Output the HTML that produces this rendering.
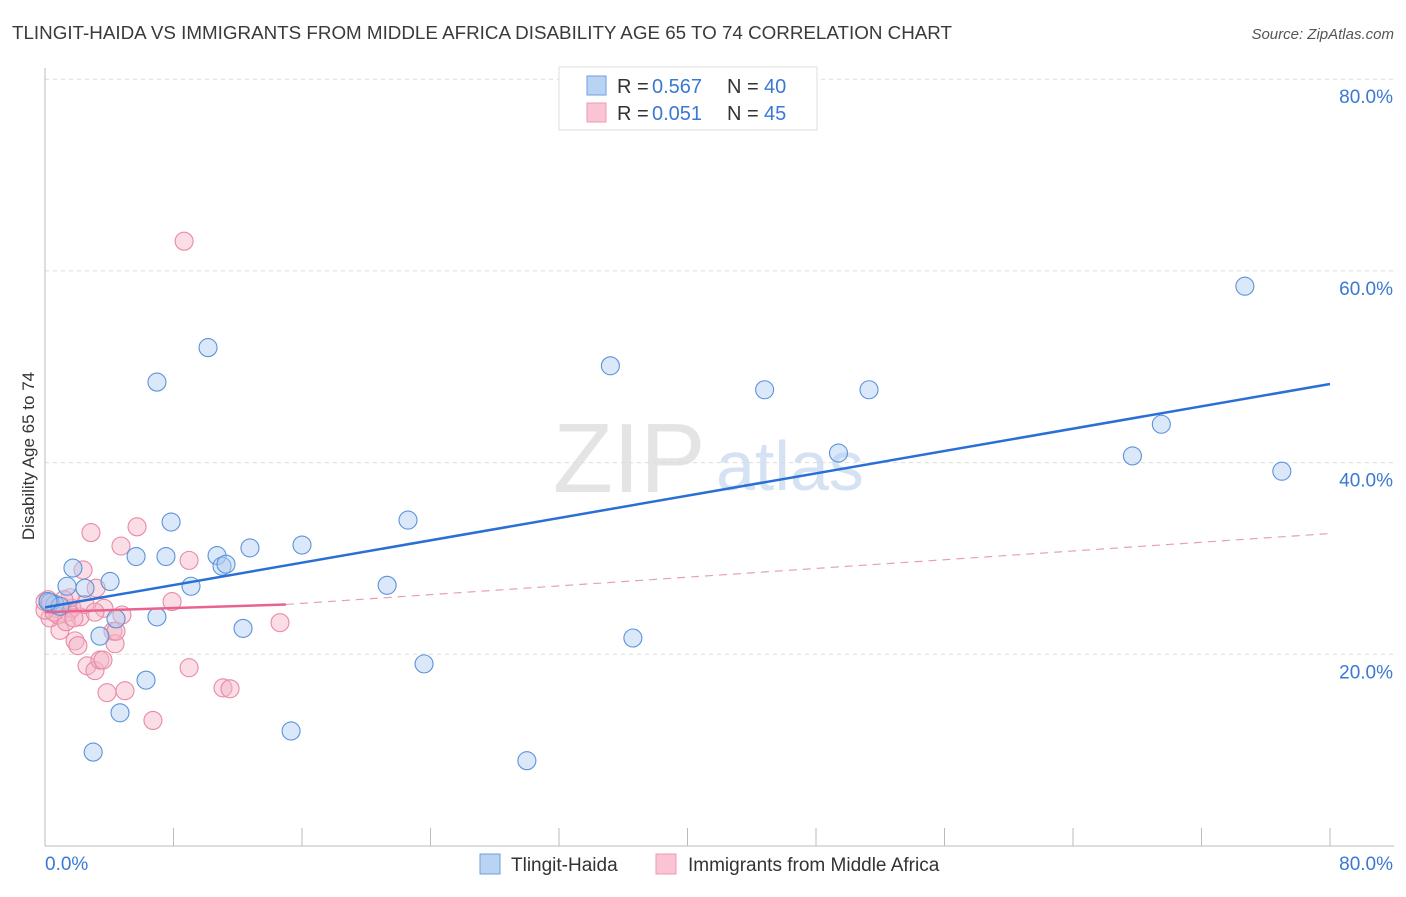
<!DOCTYPE html>
<html><head><meta charset="utf-8"><style>
body{margin:0;background:#fff;font-family:"Liberation Sans",sans-serif;}
svg text{font-family:"Liberation Sans",sans-serif;}
</style></head><body>
<svg id="chart" width="1406" height="892">
<text x="12" y="39" font-size="18" fill="#3a3a3a" textLength="940" lengthAdjust="spacingAndGlyphs">TLINGIT-HAIDA VS IMMIGRANTS FROM MIDDLE AFRICA DISABILITY AGE 65 TO 74 CORRELATION CHART</text>
<text x="1394" y="39" font-size="15" fill="#555" font-style="italic" text-anchor="end">Source: ZipAtlas.com</text>
<text x="0" y="0" transform="translate(34,456) rotate(-90)" font-size="17" fill="#333" text-anchor="middle">Disability Age 65 to 74</text>
<text x="553" y="492" font-size="98" fill="#e4e4e4" font-family="Liberation Serif">ZIP</text>
<text x="716" y="490" font-size="70" fill="#d4e2f4">atlas</text>
<g id="grid"></g><g id="axes"></g><g id="pts"></g><g id="lines"></g>
<g>
<rect x="559" y="67" width="258" height="63" fill="#fff" stroke="#ddd"/>
<rect x="587" y="76" width="19" height="19" fill="#b9d3f3" stroke="#6e9fe0"/>
<rect x="587" y="103" width="19" height="19" fill="#f9c4d3" stroke="#ee9ab3"/>
<text x="617" y="93" font-size="20" fill="#333">R =</text>
<text x="652" y="93" font-size="20" fill="#3a78d4">0.567</text>
<text x="727" y="93" font-size="20" fill="#333">N =</text>
<text x="764" y="93" font-size="20" fill="#3a78d4">40</text>
<text x="617" y="120" font-size="20" fill="#333">R =</text>
<text x="652" y="120" font-size="20" fill="#3a78d4">0.051</text>
<text x="727" y="120" font-size="20" fill="#333">N =</text>
<text x="764" y="120" font-size="20" fill="#3a78d4">45</text>
</g>
<g>
<rect x="480" y="854" width="20" height="20" fill="#b9d3f3" stroke="#6e9fe0"/>
<text x="511" y="871" font-size="19" fill="#333">Tlingit-Haida</text>
<rect x="656" y="854" width="20" height="20" fill="#f9c4d3" stroke="#ee9ab3"/>
<text x="688" y="871" font-size="19" fill="#333">Immigrants from Middle Africa</text>
</g>
</svg>
<script>
const blueX=[3.0,4.67,6.29,6.97,4.42,3.42,1.37,1.74,2.49,4.05,5.67,7.53,7.85,9.09,10.71,11.02,11.27,12.76,12.33,16.0,15.32,6.97,10.15,21.3,22.6,23.6,30.0,35.2,36.6,44.8,49.4,51.3,67.7,69.5,74.7,77.0,0.62,0.31,0.93,0.19];
const blueY=[9.8,13.9,17.3,23.9,23.7,21.9,27.1,29.0,26.9,27.6,30.2,30.2,33.8,27.1,30.3,29.2,29.4,31.1,22.7,31.4,12.0,48.4,52.0,27.2,34.0,19.0,8.9,50.1,21.7,47.6,41.0,47.6,40.7,44.0,58.4,39.1,25.2,25.4,25.0,25.5];
const pinkX=[8.66,2.86,5.73,4.73,8.97,2.37,3.18,3.67,7.91,4.79,4.23,2.18,0.93,1.87,2.05,2.62,3.11,3.42,3.61,4.36,4.42,3.86,4.98,6.72,8.97,11.08,11.52,14.63,0.19,0.44,0.68,1.06,1.43,1.68,0.31,0.81,1.31,0,2.49,3.11,1.56,0.56,1.18,0,1.8];
const pinkY=[63.1,32.7,33.3,31.3,29.8,28.8,26.9,24.8,25.5,24.1,22.4,23.9,22.5,21.4,20.9,18.8,18.3,19.4,19.4,21.1,22.4,16.0,16.2,13.1,18.6,16.5,16.4,23.3,25.7,25.2,24.8,25.0,24.4,24.8,23.8,24.1,23.4,24.6,25.2,24.4,25.9,24.4,25.7,25.5,23.8];
const blueTrend=[24.9,48.2];
const pinkTrendX=[0,15,80];
const pinkTrendY=[24.4,25.2,32.6];
const yTicks=[20,40,60,80];
const NS='http://www.w3.org/2000/svg';
const sx=v=>45+v*16.0625, sy=v=>846-v*9.585;
function mk(tag,attrs,parent){const e=document.createElementNS(NS,tag);for(const k in attrs)e.setAttribute(k,attrs[k]);document.getElementById(parent).appendChild(e);return e;}
yTicks.forEach(t=>{
 const l=mk('line',{x1:45,x2:1394,y1:sy(t),y2:sy(t),stroke:'#dcdcdc','stroke-dasharray':'4,4'},'grid');
 
 
 const tx=mk('text',{x:1393,y:sy(t)+24,'font-size':19,fill:'#3a78d4','text-anchor':'end'},'grid');
 tx.textContent=t.toFixed(1)+'%';
 
 
});
const ax=mk('line',{x1:45,x2:1394,y1:846,y2:846,stroke:'#bbb'},'axes');


const ay=mk('line',{x1:45,x2:45,y1:68,y2:846,stroke:'#bbb'},'axes');


for(let i=0;i<=10;i++){const t=mk('line',{x1:45+i*128.5,x2:45+i*128.5,y1:828,y2:846,stroke:'#bbb'},'axes');
 
 }
[[0,'0.0%','start',45],[80,'80.0%','end',1393]].forEach(a=>{const t=mk('text',{x:a[3],y:870,'font-size':19,fill:'#3a78d4','text-anchor':a[2]},'axes');t.textContent=a[1];
 
 });
function pts(xs,ys,fill,stroke,name){xs.forEach((x,i)=>{const c=mk('circle',{cx:sx(x),cy:sy(ys[i]),r:9,fill:fill,'fill-opacity':0.45,stroke:stroke,'stroke-width':1.1},'pts');
 
 });}
pts(pinkX,pinkY,'#f4b3c6','#e88aa6','pink-point');
pts(blueX,blueY,'#b0cdf2','#5b93d9','blue-point');
const bl=mk('line',{x1:sx(0),y1:sy(blueTrend[0]),x2:sx(80),y2:sy(blueTrend[1]),stroke:'#2a6fd6','stroke-width':2.5},'lines');


const pl=mk('line',{x1:sx(pinkTrendX[0]),y1:sy(pinkTrendY[0]),x2:sx(pinkTrendX[1]),y2:sy(pinkTrendY[1]),stroke:'#e8648e','stroke-width':2.5},'lines');


const pd=mk('line',{x1:sx(pinkTrendX[1]),y1:sy(pinkTrendY[1]),x2:sx(pinkTrendX[2]),y2:sy(pinkTrendY[2]),stroke:'#e8a0b6','stroke-width':1.2,'stroke-dasharray':'8,6'},'lines');


</script>
</body></html>
